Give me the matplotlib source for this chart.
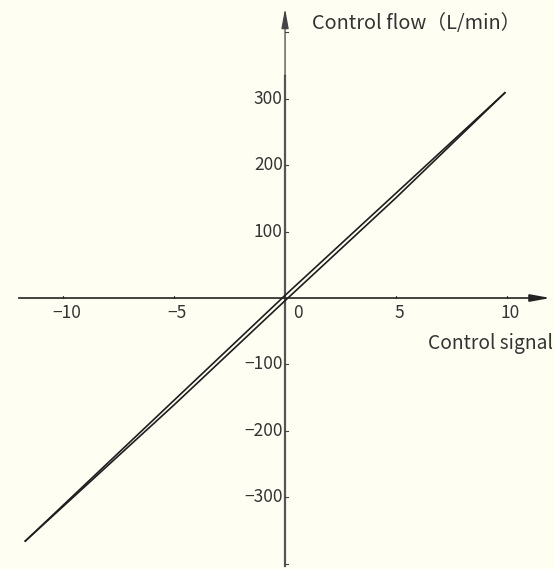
import matplotlib
matplotlib.use("Agg")
import matplotlib.pyplot as plt

# donnees (boucle d'hysteresis tres fine)
signal = [-11.7, -5, 0, 5, 9.9]
flow_up = [-366, -154, 4, 158, 309]
flow_down = [-366, -161, -4, 151, 309]

x_ticks = [-10, -5, 5, 10]
y_ticks = [-400, -300, -200, -100, 100, 200, 300, 400]
y_labels = [-300, -200, -100, 100, 200, 300]

bg = "#FFFEF2"
fam = ["Noto Sans CJK SC", "DejaVu Sans"]
txt = "#333333"

fig = plt.figure(figsize=(5.55, 5.69), dpi=100, facecolor=bg)
ax = fig.add_axes([0, 0, 1, 1])
ax.set_facecolor(bg)
ax.set_xlim(-12.84, 12.16)
ax.set_ylim(-408.1, 448.8)
ax.axis("off")

# axe x
ax.annotate("", xy=(11.95, 0), xytext=(-12.0, 0),
            arrowprops=dict(arrowstyle="-|>,head_length=1.2,head_width=0.22",
                            color="#222222", lw=1.2, shrinkA=0, shrinkB=0))
# axe y
ax.plot([0, 0], [-404, 334], color="#555555", lw=1.6)
ax.annotate("", xy=(0, 436), xytext=(0, 334),
            arrowprops=dict(arrowstyle="-|>,head_length=1.2,head_width=0.22",
                            color="#444444", lw=0.9, shrinkA=0, shrinkB=0))

# graduations
for t in x_ticks:
    ax.plot([t, t], [0, 3], color="#444444", lw=0.8)
for t in y_ticks:
    ax.plot([0, 0.12], [t, t], color="#444444", lw=0.8)

for t in x_ticks:
    ax.text(t + 0.15, -23, "\u2212" + str(-t) if t < 0 else str(t),
            ha="center", va="center", fontsize=12.5, family=fam, color=txt)
ax.text(0.6, -23, "0", ha="center", va="center", fontsize=12.5, family=fam, color=txt)
for t in y_labels:
    ax.text(-0.1, t, "\u2212" + str(-t) if t < 0 else str(t),
            ha="right", va="center", fontsize=12.5, family=fam, color=txt)

# titres des axes
ax.text(1.2, 413, "Control flow\uff08L/min\uff09", ha="left", va="center",
        fontsize=14.3, family=fam, color=txt)
ax.text(12.05, -68, "Control signal", ha="right", va="center",
        fontsize=13.8, family=fam, color=txt)

# courbe
ax.plot(signal, flow_up, color="#1e1e1e", lw=1.2)
ax.plot(signal, flow_down, color="#1e1e1e", lw=1.2)

fig.savefig("out.png", dpi=100, facecolor=bg)
